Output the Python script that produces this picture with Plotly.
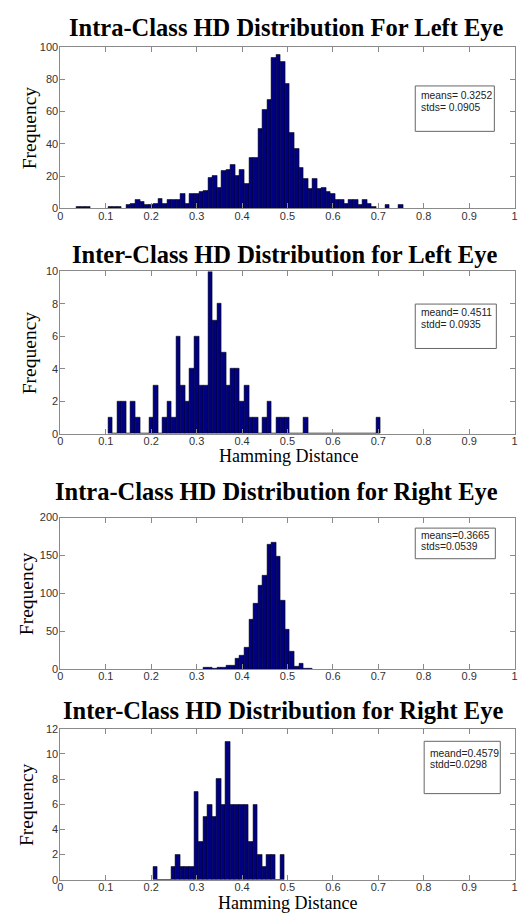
import numpy as np
import plotly.graph_objects as go

# ---------------- data ----------------
bin_width = 0.01

left_intra_start = 0.04
left_intra_counts = [1, 1, 1, 0, 0, 0, 0, 1, 1, 1, 0, 2, 3, 5, 4, 2, 2, 3, 6, 3,
                     5, 5, 5, 9, 3, 9, 9, 10, 11, 19, 20, 13, 23, 24, 27, 20, 24, 15, 31, 31,
                     49, 61, 67, 93, 95, 91, 77, 47, 37, 25, 18, 12, 18, 12, 13, 10, 9, 5, 5, 3,
                     5, 5, 2, 5, 3, 1, 0, 0, 2, 0, 0, 2]

left_inter_start = 0.11
left_inter_counts = [1, 0, 2, 2, 0, 2, 1, 0, 0, 1, 3, 0, 1, 2, 1, 6, 3, 2, 4, 6,
                     3, 3, 10, 7, 8, 5, 3, 4, 4, 2, 3, 1, 1, 0, 1, 2, 0, 1, 1, 1,
                     0, 0, 0, 1, 0, 0, 0, 0, 0, 0, 0, 0, 0, 0, 0, 0, 0, 0, 0, 1]

right_intra_start = 0.32
right_intra_counts = [2, 2, 1, 2, 2, 5, 5, 14, 18, 29, 66, 87, 110, 123, 164, 167,
                      148, 90, 52, 23, 4, 8, 1, 1]

right_inter_start = 0.209
right_inter_counts = [1, 0, 0, 0, 1, 2, 1, 1, 1, 7, 3, 5, 6, 5, 8, 6, 11, 6, 6, 6,
                      6, 3, 6, 2, 1, 2, 2, 0, 2]

titles = ["Intra-Class HD Distribution For Left Eye",
          "Inter-Class HD Distribution for Left Eye",
          "Intra-Class HD Distribution for Right Eye",
          "Inter-Class HD Distribution for Right Eye"]
stat_line1 = ["means= 0.3252", "meand= 0.4511", "means=0.3665", "meand=0.4579"]
stat_line2 = ["stds= 0.0905", "stdd= 0.0935", "stds=0.0539", "stdd=0.0298"]
y_max = [100, 10, 200, 12]
y_dtick = [20, 2, 50, 2]
x_tick_vals = [0, 0.1, 0.2, 0.3, 0.4, 0.5, 0.6, 0.7, 0.8, 0.9, 1]
x_tick_text = ["0", "0.1", "0.2", "0.3", "0.4", "0.5", "0.6", "0.7", "0.8", "0.9", "1"]
xlabel = "Hamming Distance"
ylabel = "Frequency"

series = [(left_intra_start, left_intra_counts),
          (left_inter_start, left_inter_counts),
          (right_intra_start, right_intra_counts),
          (right_inter_start, right_inter_counts)]

# ---------------- layout helpers (pixels -> paper) ----------------
W, H = 528, 922
def px(x):
    return x / W
def py(y):
    return 1 - y / H

# panel geometry in pixels: (top, bottom)
panel_y = [(41.3, 205.0), (269.0, 433.3), (518.3, 672.0), (732.3, 885.3)]
x_left, x_right = 58.0, 517.5
title_pos = [(287, 22), (285, 252), (277, 492), (283, 713.5)]
ylab_x = [27, 27, 24, 24]
box_pos = [(417, 81, 497, 127), (417, 302, 499, 347), (417, 529, 498, 560), (426, 745, 503, 798)]
stat_text_y = [(91, 103), (311, 323), (536, 548), (757, 769)]
xlabel_pos = [None, (289, 456), None, (288, 909)]

axis_color = "#8a8a8a"
tick_font = dict(family="Liberation Sans, Arial, sans-serif", size=11, color="#333333")

fig = go.Figure()
annotations = []
shapes = []

for i in range(4):
    k = i + 1
    start, counts = series[i]
    centers = start + bin_width * np.arange(len(counts))
    fig.add_trace(go.Bar(
        x=centers, y=counts, width=bin_width,
        marker=dict(color="#000080", line=dict(color="#000000", width=0.5)),
        xaxis=f"x{k}", yaxis=f"y{k}", showlegend=False, hoverinfo="x+y"))

    top, bot = panel_y[i]
    common = dict(showline=True, linecolor=axis_color, linewidth=1, mirror="ticks",
                  ticks="inside", ticklen=5, tickcolor=axis_color, tickwidth=1,
                  showgrid=False, zeroline=False, tickfont=tick_font)
    fig.update_layout(**{
        f"xaxis{k}": dict(domain=[px(x_left), px(x_right)], range=[0, 1],
                          tickvals=x_tick_vals, ticktext=x_tick_text,
                          ticklabelstandoff=-3,
                          anchor=f"y{k}", **common),
        f"yaxis{k}": dict(domain=[py(bot), py(top)], range=[0, y_max[i]],
                          tick0=0, dtick=y_dtick[i], anchor=f"x{k}",
                          ticklabelstandoff=-1, **common),
    })

    tx, ty = title_pos[i]
    annotations.append(dict(text=f"<b>{titles[i]}</b>", x=px(tx), y=py(ty),
                            xref="paper", yref="paper", xanchor="center", yanchor="middle",
                            showarrow=False,
                            font=dict(family="Liberation Serif, Times New Roman, serif",
                                      size=24.5, color="#000000")))
    annotations.append(dict(text=ylabel, x=px(ylab_x[i]), y=py((top + bot) / 2),
                            xref="paper", yref="paper", xanchor="center", yanchor="middle",
                            textangle=-90, showarrow=False,
                            font=dict(family="Liberation Serif, Times New Roman, serif",
                                      size=19.5, color="#000000")))
    if xlabel_pos[i] is not None:
        lx, ly = xlabel_pos[i]
        annotations.append(dict(text=xlabel, x=px(lx), y=py(ly), xref="paper", yref="paper",
                                xanchor="center", yanchor="middle", showarrow=False,
                                font=dict(family="Liberation Serif, Times New Roman, serif",
                                          size=18, color="#000000")))
    bx0, by0, bx1, by1 = box_pos[i]
    shapes.append(dict(type="rect", xref="paper", yref="paper",
                       x0=px(bx0), x1=px(bx1), y0=py(by1), y1=py(by0),
                       line=dict(color="#666666", width=1), fillcolor="white"))
    for line_text, yy in zip([stat_line1[i], stat_line2[i]], stat_text_y[i]):
        annotations.append(dict(text=line_text, x=px(bx0 + 4), y=py(yy),
                                xref="paper", yref="paper", xanchor="left", yanchor="middle",
                                showarrow=False,
                                font=dict(family="Liberation Sans, Arial, sans-serif",
                                          size=10.3, color="#222222")))

fig.update_layout(width=W, height=H, margin=dict(l=0, r=0, t=0, b=0),
                  paper_bgcolor="white", plot_bgcolor="white",
                  bargap=0, annotations=annotations, shapes=shapes,
                  showlegend=False)

fig.write_html("out.html")
